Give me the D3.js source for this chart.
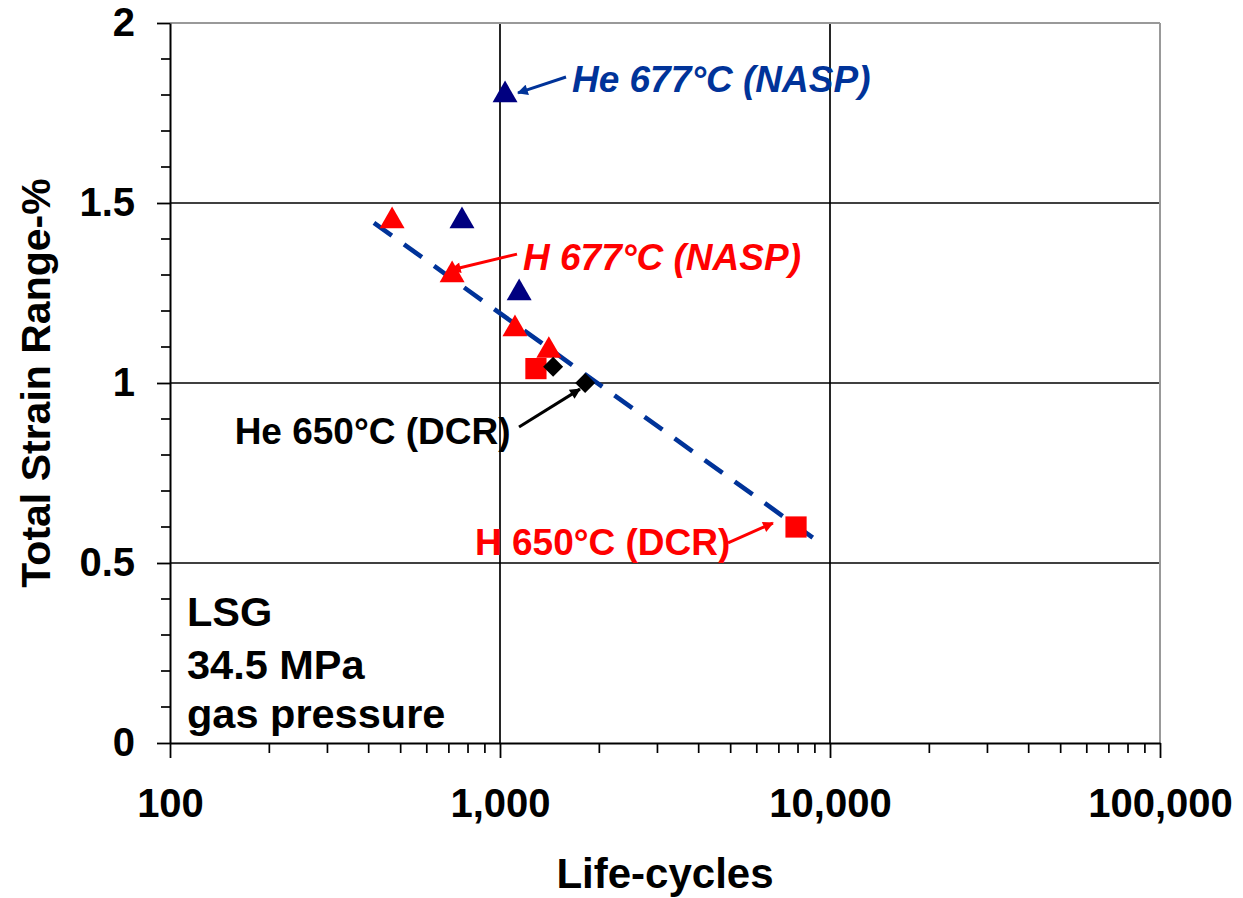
<!DOCTYPE html>
<html>
<head>
<meta charset="utf-8">
<script src="https://cdn.jsdelivr.net/npm/d3@7"></script>
<style>
  html, body { margin: 0; padding: 0; background: #fff; }
  svg { display: block; }
  text { font-family: "Liberation Sans", Arial, sans-serif; }
</style>
</head>
<body>
<svg id="chart" width="1243" height="898"></svg>
<script>
// ---------- data ----------
const heNASP = [ // He 677°C (NASP) – navy triangles
  { cycles: 1036, strain: 1.80 },
  { cycles: 767,  strain: 1.45 },
  { cycles: 1143, strain: 1.25 }
];
const hNASP = [ // H 677°C (NASP) – red triangles
  { cycles: 471,  strain: 1.45 },
  { cycles: 716,  strain: 1.30 },
  { cycles: 1110, strain: 1.15 },
  { cycles: 1406, strain: 1.09 }
];
const hDCR = [ // H 650°C (DCR) – red squares
  { cycles: 1285, strain: 1.04 },
  { cycles: 7890, strain: 0.60 }
];
const heDCR = [ // He 650°C (DCR) – black diamonds
  { cycles: 1449, strain: 1.045 },
  { cycles: 1811, strain: 1.00 }
];
const trendLine = [
  { cycles: 415,  strain: 1.445 },
  { cycles: 9200, strain: 0.56 }
];
const xTickValues = [100, 1000, 10000, 100000];
const yTickValues = [0, 0.5, 1, 1.5, 2];
const xTitle = "Life-cycles";
const yTitle = "Total Strain Range-%";
const noteLines = ["LSG", "34.5 MPa", "gas pressure"];

// annotations: label, text anchor (data), arrow start (data), arrow tip (data)
const annotations = [
  { label: "He 677°C (NASP)", tx: 1652, ty: 1.808, fx: 1585, fy: 1.85,  ex: 1134, ey: 1.806, color: "#003399", italic: true },
  { label: "H 677°C (NASP)",  tx: 1174, ty: 1.314, fx: 1126, fy: 1.358, ex: 710,  ey: 1.314, color: "#ff0000", italic: true },
  { label: "He 650°C (DCR)",  tx: 157,  ty: 0.831, fx: 1142, fy: 0.878, ex: 1747, ey: 0.983, color: "#000000", italic: false },
  { label: "H 650°C (DCR)",   tx: 840,  ty: 0.522, fx: 4910, fy: 0.556, ex: 6714, ey: 0.611, color: "#ff0000", italic: false }
];

// ---------- layout ----------
const L = 170, R = 1160, T = 23, B = 743;
const svg = d3.select("#chart");
const x = d3.scaleLog().domain([100, 100000]).range([L, R]);
const y = d3.scaleLinear().domain([0, 2]).range([B, T]);

// arrowhead markers
const defs = svg.append("defs");
const colors = Array.from(new Set(annotations.map(a => a.color)));
colors.forEach((c, i) => {
  defs.append("marker")
    .attr("id", "arr" + i)
    .attr("viewBox", "0 0 10 10")
    .attr("refX", 9).attr("refY", 5)
    .attr("markerWidth", 4.2).attr("markerHeight", 3.6)
    .attr("markerUnits", "strokeWidth")
    .attr("orient", "auto")
    .append("path").attr("d", "M0,0 L10,5 L0,10 Z").attr("fill", c);
});

// gridlines
const g = svg.append("g");
g.selectAll("line.hgrid").data([0.5, 1, 1.5]).join("line")
  .attr("x1", L).attr("x2", R).attr("y1", d => y(d)).attr("y2", d => y(d))
  .attr("stroke", "#000").attr("stroke-width", 1.7);
g.selectAll("line.vgrid").data([1000, 10000]).join("line")
  .attr("y1", T).attr("y2", B).attr("x1", d => x(d)).attr("x2", d => x(d))
  .attr("stroke", "#000").attr("stroke-width", 1.7);
// top and right border (gray)
g.append("line").attr("x1", L).attr("x2", R).attr("y1", y(2)).attr("y2", y(2))
  .attr("stroke", "#999").attr("stroke-width", 2);
g.append("line").attr("x1", x(100000)).attr("x2", x(100000)).attr("y1", T).attr("y2", B)
  .attr("stroke", "#999").attr("stroke-width", 2);

// minor ticks
const xMinor = x.ticks().filter(v => !xTickValues.includes(v));
svg.append("g").selectAll("line").data(xMinor).join("line")
  .attr("x1", d => x(d)).attr("x2", d => x(d)).attr("y1", B).attr("y2", B + 10)
  .attr("stroke", "#000").attr("stroke-width", 1.7);
const yMinor = d3.range(0, 21).map(i => i / 10).filter(v => !yTickValues.some(t => Math.abs(t - v) < 1e-9));
svg.append("g").selectAll("line").data(yMinor).join("line")
  .attr("x1", L - 9).attr("x2", L).attr("y1", d => y(d)).attr("y2", d => y(d))
  .attr("stroke", "#000").attr("stroke-width", 1.7);

// axes
const xAxis = d3.axisBottom(x).tickValues(xTickValues).tickFormat(d3.format(","))
  .tickSizeInner(15).tickSizeOuter(0).tickPadding(31);
const gx = svg.append("g").attr("transform", `translate(0,${B})`).call(xAxis);
const yAxis = d3.axisLeft(y).tickValues(yTickValues).tickFormat(d => String(d))
  .tickSizeInner(13).tickSizeOuter(0).tickPadding(22);
const gy = svg.append("g").attr("transform", `translate(${L},0)`).call(yAxis);
[gx, gy].forEach(ax => {
  ax.select(".domain").attr("stroke", "#000").attr("stroke-width", 2);
  ax.selectAll(".tick line").attr("stroke", "#000").attr("stroke-width", 1.8);
  ax.selectAll(".tick text")
    .attr("fill", "#000")
    .style("font-family", '"Liberation Sans", Arial, sans-serif')
    .style("font-size", "40px").style("font-weight", "bold");
});

// axis titles
svg.append("text").attr("x", 665).attr("y", 888)
  .attr("text-anchor", "middle").style("font-size", "42px").style("font-weight", "bold")
  .text(xTitle);
svg.append("text").attr("transform", `translate(50,383) rotate(-90)`)
  .attr("text-anchor", "middle").style("font-size", "41px").style("font-weight", "bold")
  .text(yTitle);

// trend line
svg.append("path").datum(trendLine)
  .attr("d", d3.line().x(d => x(d.cycles)).y(d => y(d.strain)))
  .attr("fill", "none").attr("stroke", "#003399").attr("stroke-width", 4.6)
  .attr("stroke-dasharray", "22,15");

// markers
const tri = d3.symbol().type(d3.symbolTriangle).size(270);
const sq = d3.symbol().type(d3.symbolSquare).size(450);
const dia = d3.symbol().type(d3.symbolSquare).size(200);

svg.append("g").selectAll("path").data(hDCR).join("path")
  .attr("d", sq).attr("fill", "#ff0000")
  .attr("transform", d => `translate(${x(d.cycles)},${y(d.strain)})`);
svg.append("g").selectAll("path").data(hNASP).join("path")
  .attr("d", tri).attr("fill", "#ff0000")
  .attr("transform", d => `translate(${x(d.cycles)},${y(d.strain)})`);
svg.append("g").selectAll("path").data(heNASP).join("path")
  .attr("d", tri).attr("fill", "#000080")
  .attr("transform", d => `translate(${x(d.cycles)},${y(d.strain)})`);
svg.append("g").selectAll("path").data(heDCR).join("path")
  .attr("d", dia).attr("fill", "#000")
  .attr("transform", d => `translate(${x(d.cycles)},${y(d.strain)}) rotate(45)`);

// annotations
const ag = svg.append("g");
annotations.forEach(a => {
  const mi = colors.indexOf(a.color);
  ag.append("line")
    .attr("x1", x(a.fx)).attr("y1", y(a.fy)).attr("x2", x(a.ex)).attr("y2", y(a.ey))
    .attr("stroke", a.color).attr("stroke-width", 3)
    .attr("marker-end", `url(#arr${mi})`);
  ag.append("text").attr("x", x(a.tx)).attr("y", y(a.ty))
    .attr("fill", a.color)
    .style("font-size", "37px").style("font-weight", "bold")
    .style("font-style", a.italic ? "italic" : "normal")
    .text(a.label);
});

// note text
const note = svg.append("text").attr("x", 187).style("font-size", "41.5px").style("font-weight", "bold");
const noteBaselines = [626, 679, 728];
noteLines.forEach((t, i) => {
  note.append("tspan").attr("x", 187).attr("y", noteBaselines[i]).text(t);
});
</script>
</body>
</html>
